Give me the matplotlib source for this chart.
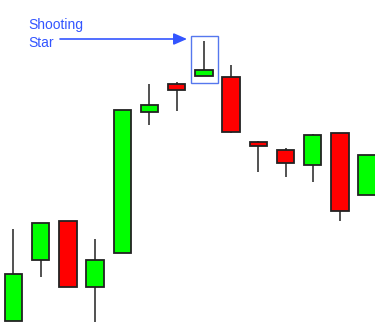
import matplotlib
matplotlib.use("Agg")
import matplotlib.pyplot as plt
from matplotlib.patches import Rectangle

# ====== Dados (OHLC) =========================================================

opens  = [4, 65, 104, 38, 72, 213, 241, 249, 248, 183, 175, 160, 192, 130]
highs  = [96, 102, 104, 86, 215, 241, 243, 284, 260, 184, 177, 191, 192, 170]
lows   = [4, 48, 38, 3, 72, 200, 214, 249, 192, 153, 148, 143, 104, 130]
closes = [51, 102, 38, 65, 215, 220, 235, 255, 193, 179, 162, 190, 114, 170]

star_idx   = 7
label_text = "Shooting\nStar"

# ====== Figura ===============================================================

fig = plt.figure(figsize=(3.75, 3.25), dpi=100)
ax = fig.add_axes([0, 0, 1, 1])
ax.set_xlim(-0.496, 13.29)
ax.set_ylim(0, 325)
ax.axis("off")

body_w = 0.64
for i, (o, h, l, c) in enumerate(zip(opens, highs, lows, closes)):
    color = "#00ff00" if c >= o else "#ff0000"
    ax.plot([i, i], [l, h], color="#333333", lw=1.2, zorder=1,
            solid_capstyle="butt")
    ax.add_patch(Rectangle((i - body_w / 2, min(o, c)), body_w, abs(c - o),
                           facecolor=color, edgecolor="#222222", lw=1.3,
                           zorder=2))

# caixa em volta da shooting star
s_lo = min(opens[star_idx], closes[star_idx])
s_hi = highs[star_idx]
ax.add_patch(Rectangle((star_idx - 0.47, s_lo - 7), 0.99, s_hi - s_lo + 12,
                       facecolor="none", edgecolor="#5577ee", lw=1.0,
                       zorder=3))

# seta e texto
arrow_y = s_hi + 2
ax.annotate("", xy=(star_idx - 0.62, arrow_y), xytext=(1.71, arrow_y),
            arrowprops=dict(arrowstyle="-|>,head_length=0.8,head_width=0.35",
                            color="#3355ff", lw=1.2,
                            shrinkA=0, shrinkB=0))
ax.text(0.53, 307, label_text, color="#3355ff", fontsize=10,
        family="Liberation Sans", va="top", ha="left", linespacing=1.4)

fig.savefig("out.png", dpi=100)
plt.close(fig)
